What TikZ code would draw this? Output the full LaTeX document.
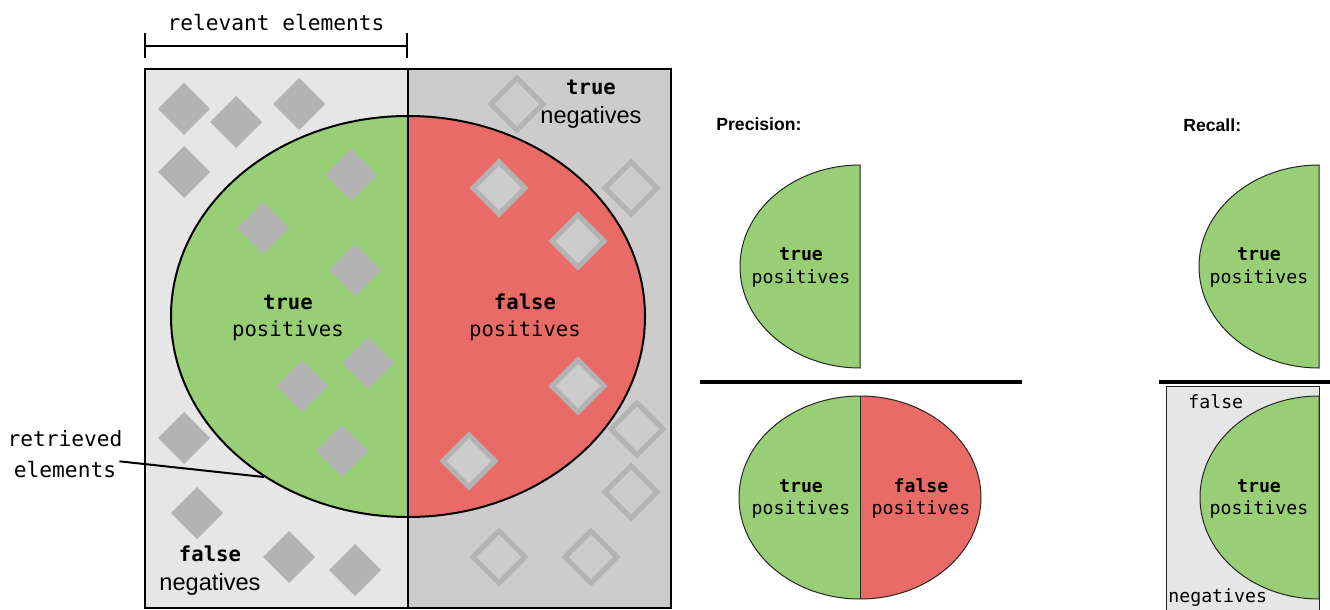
\documentclass[tikz,border=0pt]{standalone}
\usepackage{fontspec}
\setmainfont{Liberation Sans}
\setmonofont{DejaVu Sans Mono}
\definecolor{tpgreen}{HTML}{98CF76}
\definecolor{fpred}{HTML}{E96B67}
\definecolor{lightbg}{HTML}{E6E6E6}
\definecolor{midbg}{HTML}{CCCCCC}
\definecolor{diagray}{HTML}{B3B3B3}
\tikzset{
  mono/.style={font=\fontsize{10.3}{12}\selectfont\ttfamily, inner sep=0pt},
  monob/.style={font=\fontsize{10.3}{12}\selectfont\ttfamily\bfseries, inner sep=0pt},
  lmono/.style={font=\fontsize{10.6}{12}\selectfont\ttfamily, inner sep=0pt},
  smono/.style={font=\fontsize{9.1}{11}\selectfont\ttfamily, inner sep=0pt},
  smonob/.style={font=\fontsize{9.1}{11}\selectfont\ttfamily\bfseries, inner sep=0pt},
  sanslbl/.style={font=\fontsize{11.8}{14}\selectfont, inner sep=0pt},
  heading/.style={font=\fontsize{8.8}{10}\selectfont\bfseries, inner sep=0pt, anchor=west},
  relevant/.pic={\fill[diagray] (-26,0)--(0,26)--(26,0)--(0,-26)--cycle;},
  irrelevant/.pic={\draw[diagray, fill=midbg, line width=2.5pt] (-26,0)--(0,26)--(26,0)--(0,-26)--cycle;},
  outline/.style={draw=black, line width=1pt},
  thinline/.style={draw=black!85, line width=0.5pt},
  fracbar/.style={line width=1.7pt},
}
\begin{document}
\begin{tikzpicture}[x=0.5pt,y=0.5pt]
\useasboundingbox (0,0) rectangle (1330,-610);

% ---- relevant elements bracket
\draw[line width=1pt] (145,-33) -- (145,-58) (407,-33) -- (407,-58) (145,-46) -- (407,-46);
\node[lmono] (relevant) at (276,-23) {relevant elements};

% ---- main panel: relevant (left) and irrelevant (right) halves
\fill[lightbg] (145,-69) rectangle (408,-608);
\fill[midbg] (408,-69) rectangle (671,-608);

% retrieved set
\fill[tpgreen] (408,-116) arc[start angle=90, end angle=270, x radius=237, y radius=200.5] -- cycle;
\fill[fpred] (408,-517) arc[start angle=-90, end angle=90, x radius=237, y radius=200.5] -- cycle;

% relevant elements (filled diamonds)
\foreach \px/\py in {184/109, 236/122, 299/104, 184/172, 351/175, 263/228, 355/270,
                     368/363, 302/386, 184/438, 342/451, 197/513, 289/557, 355/570}
  \pic at (\px,-\py) {relevant};
% irrelevant elements (hollow diamonds)
\foreach \px/\py in {517/104, 499/188, 631/188, 578/241, 578/386, 469/461, 637/429,
                     631/492, 499/557, 591/557}
  \pic at (\px,-\py) {irrelevant};

\draw[outline] (408,-316.5) ellipse[x radius=237, y radius=200.5];
\draw[outline] (145,-69) rectangle (671,-608);
\draw[outline] (408,-69) -- (408,-608);

% labels in the main panel
\node[monob] (tpA) at (288,-302) {true};
\node[mono]  (tpB) at (288,-331) {positives};
\node[monob] (fpA) at (525,-302) {false};
\node[mono]  (fpB) at (525,-331) {positives};
\node[monob] (tnA) at (591,-87) {true};
\node[sanslbl] (tnB) at (591,-117) {negatives};
\node[monob] (fnA) at (210,-554) {false};
\node[sanslbl] (fnB) at (210,-584) {negatives};

% retrieved elements callout
\node[lmono] (retA) at (65,-439) {retrieved};
\node[lmono] (retB) at (65,-470) {elements};
\coordinate (retpt) at (264,-477);
\draw[line width=1pt] ([xshift=1.5pt]retB.north east) -- (retpt);

% ---- precision
\node[heading] (ptitle) at (716,-124) {Precision:};
\filldraw[fill=tpgreen, thinline] (860,-165) arc[start angle=90, end angle=270, x radius=120, y radius=101.5] -- cycle;
\node[smonob] (ptpA) at (801,-254) {true};
\node[smono]  (ptpB) at (801,-278) {positives};
\draw[fracbar] (700,-382) -- (1022,-382);
\fill[tpgreen] (860,-396) arc[start angle=90, end angle=270, x radius=121, y radius=101.5] -- cycle;
\fill[fpred] (860,-599) arc[start angle=-90, end angle=90, x radius=121, y radius=101.5] -- cycle;
\draw[thinline] (860,-497.5) ellipse[x radius=121, y radius=101.5];
\draw[thinline] (860,-396) -- (860,-599);
\node[smonob] (pbtpA) at (801,-486) {true};
\node[smono]  (pbtpB) at (801,-509) {positives};
\node[smonob] (pbfpA) at (921,-486) {false};
\node[smono]  (pbfpB) at (921,-509) {positives};

% ---- recall
\node[heading] (rtitle) at (1183,-125) {Recall:};
\filldraw[fill=tpgreen, thinline] (1319,-165) arc[start angle=90, end angle=270, x radius=120, y radius=101.5] -- cycle;
\node[smonob] (rtpA) at (1259,-254) {true};
\node[smono]  (rtpB) at (1259,-278) {positives};
\draw[fracbar] (1159,-382) -- (1335,-382);
\filldraw[fill=lightbg, thinline] (1166,-386) rectangle (1319,-640);
\filldraw[fill=tpgreen, thinline] (1319,-396) arc[start angle=90, end angle=270, x radius=119, y radius=101.5] -- cycle;
\node[smonob] (rtpC) at (1259,-486) {true};
\node[smono]  (rtpD) at (1259,-509) {positives};
\node[smono, anchor=west] (rfnA) at (1188,-402) {false};
\node[smono, anchor=west] (rfnB) at (1168,-598) {negatives};
\end{tikzpicture}
\end{document}
